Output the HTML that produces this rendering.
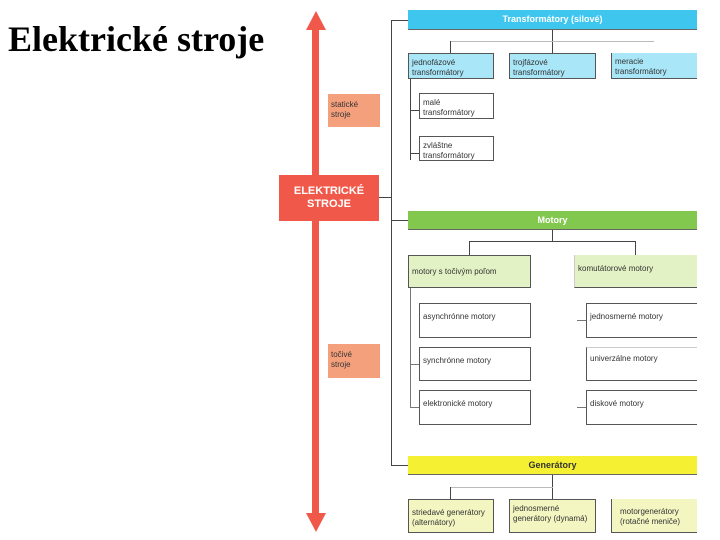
<!DOCTYPE html>
<html><head><meta charset="utf-8"><style>
html,body{margin:0;padding:0;background:#fff;}
body{width:720px;height:540px;position:relative;overflow:hidden;font-family:"Liberation Sans",sans-serif;}
.a{position:absolute;box-sizing:border-box;}
.t{font-size:8px;color:#333;line-height:10px;padding:4px 0 0 3px;}
.bx{border:1px solid #555;}
.ln{position:absolute;background:#444;}
.lg{position:absolute;background:#bbb;}
.bar{font-weight:bold;color:#fff;font-size:9px;text-align:center;border-bottom:1px solid #666;}
</style></head><body>
<div class="a" style="left:8px;top:18px;font-family:'Liberation Serif',serif;font-weight:bold;font-size:36px;color:#000;white-space:nowrap;">Elektrické stroje</div>

<!-- arrow -->
<div class="a" style="left:312px;top:28px;width:7px;height:488px;background:#f0584a;"></div>
<svg class="a" style="left:305px;top:11px" width="22" height="20"><polygon points="11,0 21,19 1,19" fill="#f0584a"/></svg>
<svg class="a" style="left:305px;top:513px" width="22" height="20"><polygon points="1,0 21,0 11,19" fill="#f0584a"/></svg>

<div class="a" style="left:279px;top:175px;width:100px;height:46px;background:#f0584a;color:#fff;font-weight:bold;font-size:11px;text-align:center;line-height:13px;padding-top:10px;">ELEKTRICKÉ<br>STROJE</div>
<div class="a t" style="left:328px;top:94px;width:52px;height:33px;background:#f5a07c;padding-top:6px;">statické<br>stroje</div>
<div class="a t" style="left:328px;top:344px;width:52px;height:34px;background:#f5a07c;padding-top:6px;">točivé<br>stroje</div>

<!-- main tree -->
<div class="ln" style="left:379px;top:197px;width:13px;height:1px;"></div>
<div class="ln" style="left:391px;top:20px;width:1px;height:446px;"></div>
<div class="ln" style="left:391px;top:20px;width:17px;height:1px;"></div>
<div class="ln" style="left:391px;top:220px;width:17px;height:1px;"></div>
<div class="ln" style="left:391px;top:465px;width:17px;height:1px;"></div>

<!-- Transformatory -->
<div class="a bar" style="left:408px;top:10px;width:289px;height:20px;background:#3ec6ee;line-height:19px;">Transformátory (silové)</div>
<div class="ln" style="left:552px;top:30px;width:1px;height:24px;"></div>
<div class="lg" style="left:450px;top:41px;width:204px;height:1px;"></div>
<div class="ln" style="left:450px;top:41px;width:1px;height:12px;"></div>
<div class="a bx t" style="left:408px;top:53px;width:86px;height:26px;background:#a8e6f8;">jednofázové<br>transformátory</div>
<div class="a bx t" style="left:509px;top:53px;width:87px;height:26px;background:#a8e6f8;">trojfázové<br>transformátory</div>
<div class="a t" style="left:611px;top:53px;width:86px;height:26px;background:#a8e6f8;border-bottom:1px solid #555;border-left:1px solid #555;">meracie<br>transformátory</div>
<div class="ln" style="left:410px;top:79px;width:1px;height:81px;"></div>
<div class="ln" style="left:410px;top:110px;width:9px;height:1px;"></div>
<div class="ln" style="left:410px;top:153px;width:9px;height:1px;"></div>
<div class="a bx t" style="left:419px;top:93px;width:75px;height:26px;">malé<br>transformátory</div>
<div class="a bx t" style="left:419px;top:136px;width:75px;height:25px;">zvláštne<br>transformátory</div>

<!-- Motory -->
<div class="a bar" style="left:408px;top:211px;width:289px;height:19px;background:#82c84e;line-height:18px;">Motory</div>
<div class="ln" style="left:552px;top:230px;width:1px;height:11px;"></div>
<div class="ln" style="left:469px;top:241px;width:167px;height:1px;"></div>
<div class="ln" style="left:469px;top:241px;width:1px;height:14px;"></div>
<div class="ln" style="left:635px;top:241px;width:1px;height:14px;"></div>
<div class="a bx t" style="left:408px;top:255px;width:123px;height:33px;background:#e2f2c4;padding-top:11px;">motory s točivým poľom</div>
<div class="a t" style="left:574px;top:255px;width:123px;height:33px;background:#e2f2c4;border-bottom:1px solid #555;border-left:1px solid #ccc;padding-top:9px;">komutátorové motory</div>
<div class="ln" style="left:410px;top:288px;width:1px;height:120px;background:#777;"></div>
<div class="ln" style="left:410px;top:364px;width:9px;height:1px;background:#777;"></div>
<div class="ln" style="left:410px;top:407px;width:9px;height:1px;background:#777;"></div>
<div class="a bx t" style="left:419px;top:303px;width:112px;height:35px;padding-top:8px;">asynchrónne motory</div>
<div class="a bx t" style="left:419px;top:347px;width:112px;height:34px;padding-top:8px;">synchrónne motory</div>
<div class="a bx t" style="left:419px;top:390px;width:112px;height:35px;padding-top:8px;">elektronické motory</div>
<div class="ln" style="left:577px;top:320px;width:9px;height:1px;background:#777;"></div>
<div class="ln" style="left:577px;top:407px;width:9px;height:1px;background:#777;"></div>
<div class="a t" style="left:586px;top:303px;width:111px;height:35px;padding-top:8px;border:1px solid #555;border-right:none;">jednosmerné motory</div>
<div class="a t" style="left:586px;top:347px;width:111px;height:34px;padding-top:6px;border:1px solid #555;border-right:none;border-top-color:#ccc;">univerzálne motory</div>
<div class="a t" style="left:586px;top:390px;width:111px;height:35px;padding-top:8px;border:1px solid #555;border-right:none;">diskové motory</div>

<!-- Generatory -->
<div class="a bar" style="left:408px;top:456px;width:289px;height:19px;background:#f5f032;color:#333;line-height:18px;">Generátory</div>
<div class="ln" style="left:552px;top:475px;width:1px;height:24px;"></div>
<div class="lg" style="left:450px;top:487px;width:103px;height:1px;"></div>
<div class="ln" style="left:450px;top:487px;width:1px;height:12px;"></div>
<div class="a bx t" style="left:408px;top:499px;width:86px;height:34px;background:#f4f6c2;padding-top:8px;">striedavé generátory<br>(alternátory)</div>
<div class="a bx t" style="left:509px;top:499px;width:87px;height:34px;background:#f4f6c2;padding-top:4px;">jednosmerné<br>generátory (dynamá)</div>
<div class="a t" style="left:611px;top:499px;width:86px;height:34px;background:#f4f6c2;padding:8px 0 0 8px;border-bottom:1px solid #555;border-left:1px solid #555;">motorgenerátory<br>(rotačné meniče)</div>
</body></html>
